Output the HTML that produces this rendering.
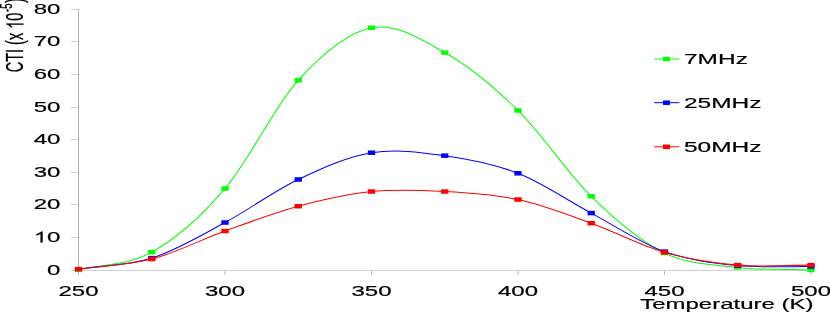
<!DOCTYPE html>
<html><head><meta charset="utf-8"><title>Chart</title>
<style>html,body{margin:0;padding:0;background:#fff;}body{width:830px;height:313px;overflow:hidden;font-family:"Liberation Sans",sans-serif;}text{stroke:#000;stroke-width:.2px}</style>
</head><body>
<svg width="830" height="313" viewBox="0 0 830 313" style="display:block;will-change:transform" font-family="'Liberation Sans', sans-serif" fill="#000">
<rect width="830" height="313" fill="#fff"/>
<g shape-rendering="crispEdges">
<rect x="78" y="9" width="1" height="266" fill="#b4b4b4"/>
<rect x="71" y="270" width="740" height="1" fill="#d2d2d2"/>
<rect x="71" y="237" width="7" height="1" fill="#d2d2d2"/>
<rect x="71" y="204" width="7" height="1" fill="#d2d2d2"/>
<rect x="71" y="172" width="7" height="1" fill="#d2d2d2"/>
<rect x="71" y="139" width="7" height="1" fill="#d2d2d2"/>
<rect x="71" y="107" width="7" height="1" fill="#d2d2d2"/>
<rect x="71" y="74" width="7" height="1" fill="#d2d2d2"/>
<rect x="71" y="41" width="7" height="1" fill="#d2d2d2"/>
<rect x="71" y="9" width="7" height="1" fill="#d2d2d2"/>
<rect x="224.49" y="271" width="1" height="4" fill="#b8b8b8" shape-rendering="auto"/>
<rect x="370.98" y="271" width="1" height="4" fill="#b8b8b8" shape-rendering="auto"/>
<rect x="517.47" y="271" width="1" height="4" fill="#b8b8b8" shape-rendering="auto"/>
<rect x="663.96" y="271" width="1" height="4" fill="#b8b8b8" shape-rendering="auto"/>
<rect x="810.45" y="271" width="1" height="4" fill="#b8b8b8" shape-rendering="auto"/>
</g>
<text transform="translate(60.4 275.40) scale(1.570 1)" font-size="15.3" text-anchor="end">0</text>
<g transform="translate(60.4 242.40) scale(1.570 1)"><text font-size="15.3" text-anchor="end">0</text><path transform="translate(-17.017 0) scale(0.00747 -0.00747)" d="M763 0H583V1147Q518 1085 412.5 1023Q307 961 223 930V1104Q374 1175 487 1276Q600 1377 647 1472H763Z" fill="#000" stroke="#000" stroke-width="16.1"/></g>
<text transform="translate(60.4 209.40) scale(1.570 1)" font-size="15.3" text-anchor="end">20</text>
<text transform="translate(60.4 177.40) scale(1.570 1)" font-size="15.3" text-anchor="end">30</text>
<text transform="translate(60.4 144.40) scale(1.570 1)" font-size="15.3" text-anchor="end">40</text>
<text transform="translate(60.4 112.40) scale(1.570 1)" font-size="15.3" text-anchor="end">50</text>
<text transform="translate(60.4 79.40) scale(1.570 1)" font-size="15.3" text-anchor="end">60</text>
<text transform="translate(60.4 46.40) scale(1.570 1)" font-size="15.3" text-anchor="end">70</text>
<text transform="translate(60.4 14.40) scale(1.570 1)" font-size="15.3" text-anchor="end">80</text>
<text transform="translate(78.50 295.8) scale(1.570 1)" font-size="15.3" text-anchor="middle">250</text>
<text transform="translate(224.99 295.8) scale(1.570 1)" font-size="15.3" text-anchor="middle">300</text>
<text transform="translate(371.48 295.8) scale(1.570 1)" font-size="15.3" text-anchor="middle">350</text>
<text transform="translate(517.97 295.8) scale(1.570 1)" font-size="15.3" text-anchor="middle">400</text>
<text transform="translate(664.46 295.8) scale(1.570 1)" font-size="15.3" text-anchor="middle">450</text>
<text transform="translate(810.95 295.8) scale(1.570 1)" font-size="15.3" text-anchor="middle">500</text>
<text transform="translate(813.6 309.2) scale(1.570 1)" font-size="15.3" text-anchor="end">Temperature (K)</text>
<g><g transform="translate(23.4 72.3) scale(1.65 1) rotate(-90)"><text font-size="14.5">CTI (x </text><path transform="translate(43.493 0) scale(0.00708 -0.00708)" d="M763 0H583V1147Q518 1085 412.5 1023Q307 961 223 930V1104Q374 1175 487 1276Q600 1377 647 1472H763Z" fill="#000" stroke="#000" stroke-width="16.9"/><text x="51.56" font-size="14.5">0</text></g><text transform="translate(11.6 12.0) scale(1.65 1) rotate(-90)" font-size="9.6">-5</text><text transform="translate(23.4 3.0) scale(1.65 1) rotate(-90)" font-size="14.5">)</text></g>
<path d="M78.50 269.85 C102.91 263.95 127.33 265.70 151.75 252.16 C176.16 238.63 200.58 217.26 224.99 188.61 C249.41 159.97 273.82 107.10 298.24 80.30 C322.65 53.49 347.06 32.39 371.48 27.77 C395.90 23.15 420.31 38.78 444.73 52.56 C469.14 66.35 493.56 86.52 517.97 110.47 C542.38 134.43 566.80 172.52 591.22 196.28 C615.63 220.04 640.05 241.19 664.46 253.05 C688.88 264.90 713.29 264.57 737.71 267.40 C762.12 270.23 786.54 269.14 810.95 270.01" fill="none" stroke="#00ff00" stroke-width="1.02"/>
<rect x="74.85" y="267.60" width="7.3" height="4.5" fill="#00ff00"/>
<rect x="148.09" y="249.91" width="7.3" height="4.5" fill="#00ff00"/>
<rect x="221.34" y="186.36" width="7.3" height="4.5" fill="#00ff00"/>
<rect x="294.59" y="78.05" width="7.3" height="4.5" fill="#00ff00"/>
<rect x="367.83" y="25.52" width="7.3" height="4.5" fill="#00ff00"/>
<rect x="441.08" y="50.31" width="7.3" height="4.5" fill="#00ff00"/>
<rect x="514.32" y="108.22" width="7.3" height="4.5" fill="#00ff00"/>
<rect x="587.57" y="194.03" width="7.3" height="4.5" fill="#00ff00"/>
<rect x="660.81" y="250.80" width="7.3" height="4.5" fill="#00ff00"/>
<rect x="734.06" y="265.15" width="7.3" height="4.5" fill="#00ff00"/>
<rect x="807.30" y="267.76" width="7.3" height="4.5" fill="#00ff00"/>

<path d="M78.50 269.13 C102.91 265.45 127.33 265.87 151.75 258.10 C176.16 250.34 200.58 235.65 224.99 222.54 C249.41 209.44 273.82 191.11 298.24 179.48 C322.65 167.84 347.06 156.69 371.48 152.72 C395.90 148.75 420.31 152.23 444.73 155.66 C469.14 159.09 493.56 163.71 517.97 173.28 C542.38 182.85 566.80 200.03 591.22 213.08 C615.63 226.13 640.05 242.82 664.46 251.58 C688.88 260.33 713.29 263.13 737.71 265.61 C762.12 268.08 786.54 266.15 810.95 266.42" fill="none" stroke="#0000ff" stroke-width="1.02"/>
<rect x="148.09" y="255.85" width="7.3" height="4.5" fill="#0000ff"/>
<rect x="221.34" y="220.29" width="7.3" height="4.5" fill="#0000ff"/>
<rect x="294.59" y="177.23" width="7.3" height="4.5" fill="#0000ff"/>
<rect x="367.83" y="150.47" width="7.3" height="4.5" fill="#0000ff"/>
<rect x="441.08" y="153.41" width="7.3" height="4.5" fill="#0000ff"/>
<rect x="514.32" y="171.03" width="7.3" height="4.5" fill="#0000ff"/>
<rect x="587.57" y="210.83" width="7.3" height="4.5" fill="#0000ff"/>
<rect x="660.81" y="249.33" width="7.3" height="4.5" fill="#0000ff"/>
<rect x="734.06" y="263.36" width="7.3" height="4.5" fill="#0000ff"/>
<rect x="807.30" y="264.17" width="7.3" height="4.5" fill="#0000ff"/>

<path d="M78.50 269.13 C102.91 265.78 127.33 265.43 151.75 259.08 C176.16 252.73 200.58 239.83 224.99 231.02 C249.41 222.22 273.82 212.81 298.24 206.23 C322.65 199.65 347.06 193.99 371.48 191.55 C395.90 189.10 420.31 190.22 444.73 191.55 C469.14 192.88 493.56 194.27 517.97 199.54 C542.38 204.81 566.80 214.38 591.22 223.19 C615.63 232.00 640.05 245.41 664.46 252.39 C688.88 259.38 713.29 263.00 737.71 265.12 C762.12 267.24 786.54 265.12 810.95 265.12" fill="none" stroke="#ff0000" stroke-width="1.02"/>
<rect x="74.85" y="266.88" width="7.3" height="4.5" fill="#ff0000"/>
<rect x="148.09" y="256.83" width="7.3" height="4.5" fill="#ff0000"/>
<rect x="221.34" y="228.77" width="7.3" height="4.5" fill="#ff0000"/>
<rect x="294.59" y="203.98" width="7.3" height="4.5" fill="#ff0000"/>
<rect x="367.83" y="189.30" width="7.3" height="4.5" fill="#ff0000"/>
<rect x="441.08" y="189.30" width="7.3" height="4.5" fill="#ff0000"/>
<rect x="514.32" y="197.29" width="7.3" height="4.5" fill="#ff0000"/>
<rect x="587.57" y="220.94" width="7.3" height="4.5" fill="#ff0000"/>
<rect x="660.81" y="250.14" width="7.3" height="4.5" fill="#ff0000"/>
<rect x="734.06" y="262.87" width="7.3" height="4.5" fill="#ff0000"/>
<rect x="807.30" y="262.87" width="7.3" height="4.5" fill="#ff0000"/>

<path d="M654.2 59.0 H679.3" stroke="#00ff00" stroke-width="1"/>
<rect x="663.0" y="56.75" width="7.0" height="4.5" fill="#00ff00"/>
<text transform="translate(684.0 64.0) scale(1.601 1)" font-size="15.3">7MHz</text>
<path d="M654.2 102.7 H679.3" stroke="#0000ff" stroke-width="1"/>
<rect x="663.0" y="100.45" width="7.0" height="4.5" fill="#0000ff"/>
<text transform="translate(684.0 107.7) scale(1.601 1)" font-size="15.3">25MHz</text>
<path d="M654.2 146.8 H679.3" stroke="#ff0000" stroke-width="1"/>
<rect x="663.0" y="144.55" width="7.0" height="4.5" fill="#ff0000"/>
<text transform="translate(684.0 151.8) scale(1.601 1)" font-size="15.3">50MHz</text>
</svg>
</body></html>
